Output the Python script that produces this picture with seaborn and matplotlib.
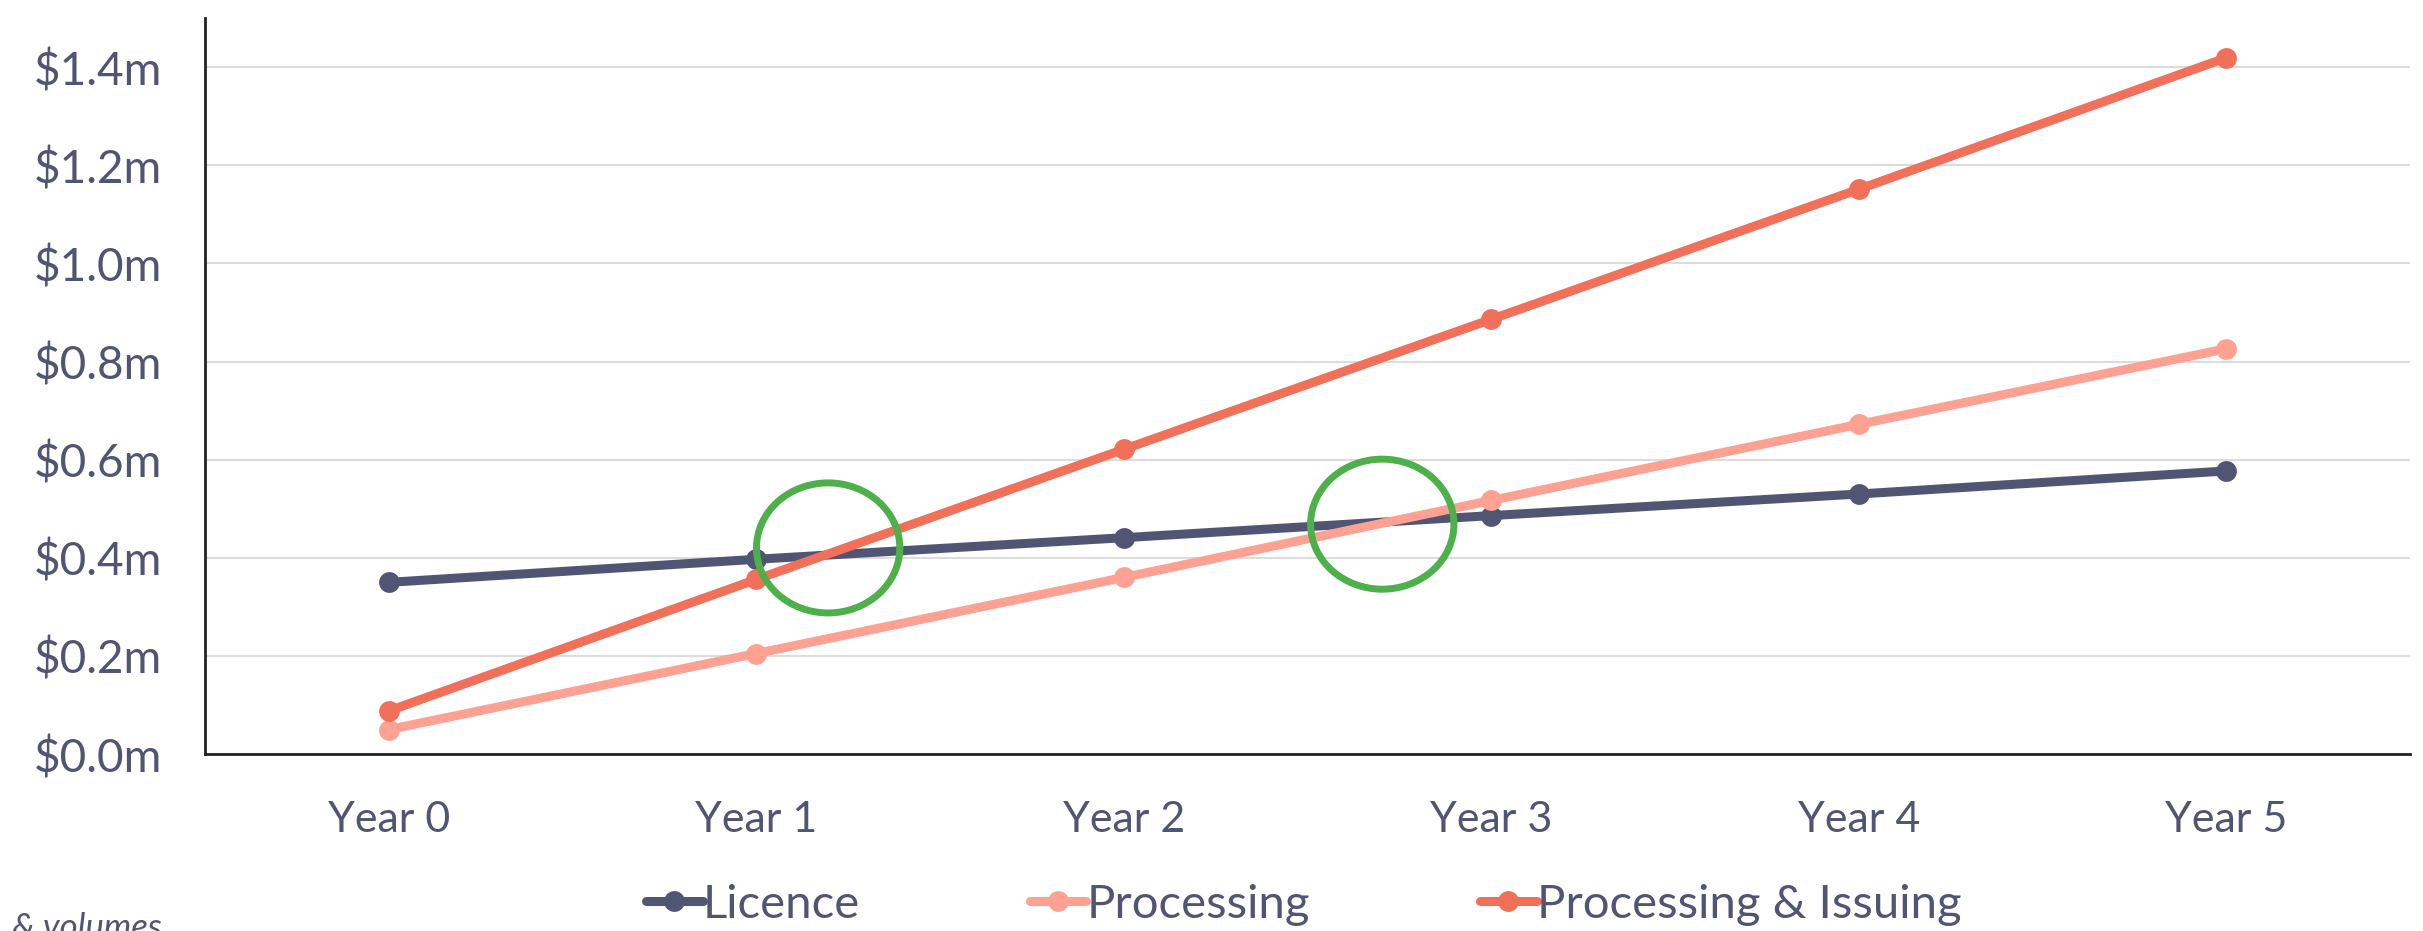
import numpy as np
import pandas as pd
import seaborn as sns
import matplotlib.pyplot as plt
from matplotlib.patches import Ellipse

# valores (millones de dolares)
years = ['Year 0', 'Year 1', 'Year 2', 'Year 3', 'Year 4', 'Year 5']
licence = [0.350, 0.397, 0.441, 0.486, 0.530, 0.577]
processing = [0.050, 0.205, 0.360, 0.517, 0.672, 0.826]
proc_issuing = [0.088, 0.356, 0.621, 0.886, 1.151, 1.419]
series_names = ['Licence', 'Processing', 'Processing & Issuing']
y_ticks = [0.0, 0.2, 0.4, 0.6, 0.8, 1.0, 1.2, 1.4]
footnote = '& volumes'

colors = ['#515574', '#FDA193', '#F07059']
text_color = '#515574'

df = pd.DataFrame({'Year': years * 3,
                   'Value': licence + processing + proc_issuing,
                   'Series': np.repeat(series_names, len(years))})

sns.set_theme(style='white')
plt.rcParams['font.family'] = ['Lato', 'DejaVu Sans']

fig = plt.figure(figsize=(24.23, 9.31), dpi=100)
ax = fig.add_axes([0.0846, 0.190, 0.9101, 0.7907])

sns.lineplot(data=df, x='Year', y='Value', hue='Series', palette=colors,
             marker='o', markersize=15, markeredgewidth=0, linewidth=6.5,
             sort=False, ax=ax)

ax.set_xlim(-0.5, 5.5)
ax.set_ylim(0, 1.5)
ax.set_yticks(y_ticks)
ax.set_yticklabels([f'${v:.1f}m' for v in y_ticks])
ax.yaxis.grid(True, color='#DCDCDC', linewidth=1.5)
ax.set_axisbelow(True)
ax.set_xlabel('')
ax.set_ylabel('')
for s in ['top', 'right']:
    ax.spines[s].set_visible(False)
for s in ['left', 'bottom']:
    ax.spines[s].set_color('#222222')
    ax.spines[s].set_linewidth(2)
ax.tick_params(axis='x', labelsize=31, colors=text_color, pad=34, length=0)
ax.tick_params(axis='y', labelsize=33, colors=text_color, pad=31, length=0)

# circulos verdes en los puntos de cruce
def crossing(a, b):
    a = np.array(a); b = np.array(b)
    d = a - b
    i = np.where(np.sign(d[:-1]) != np.sign(d[1:]))[0][0]
    t = d[i] / (d[i] - d[i + 1])
    return i + t, a[i] + t * (a[i + 1] - a[i])

for other, dx, dy in [(proc_issuing, 0.01, 0.015), (processing, -0.02, -0.005)]:
    cx, cy = crossing(licence, other)
    ax.add_patch(Ellipse((cx + dx, cy + dy), 0.39, 0.265, fill=False,
                         edgecolor='#4DB04A', linewidth=5, zorder=5))

leg = ax.legend(loc='center', bbox_to_anchor=(0.538, 0.028),
                bbox_transform=fig.transFigure, ncol=3, frameon=False,
                fontsize=34, handlelength=1.2, handletextpad=0.0,
                columnspacing=3.6)
for t in leg.get_texts():
    t.set_color(text_color)

fig.text(162 / 2423, 1 - 912 / 931, footnote, ha='right', va='top',
         fontsize=25, style='italic', color=text_color)

fig.savefig('out.png', dpi=100)
